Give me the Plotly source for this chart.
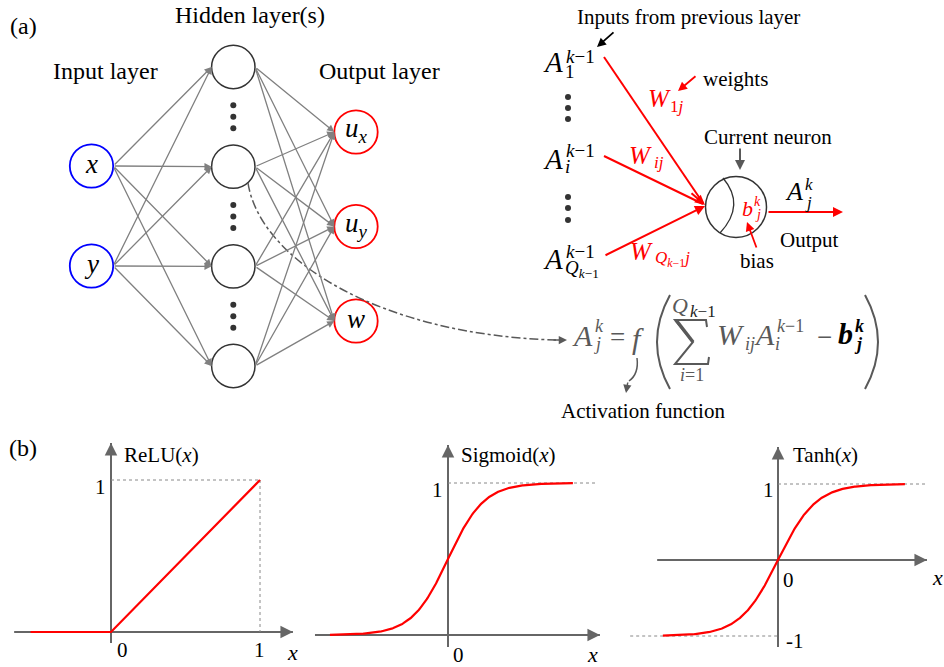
import numpy as np
import plotly.graph_objects as go

FIG_W, FIG_H = 944, 667
SERIF = "Liberation Serif"
INK = "#000000"
GRAY = "#595959"
EDGE = "#808080"
RED = "#ff0000"
BLUE = "#0000ff"
DOT = "#333333"

# ---------------- values ----------------
input_labels = ["<i>x</i>", "<i>y</i>"]
output_labels = ["<i>u</i><sub><i>x</i></sub>", "<i>u</i><sub><i>y</i></sub>", "<i>w</i>"]
n_hidden = 4

relu_x = np.array([-0.54, 0.0, 1.0])
sigmoid_x = np.linspace(-6.56, 6.94, 300)
tanh_x = np.linspace(-3.03, 3.34, 300)

relu_y = np.maximum(relu_x, 0.0)
sigmoid_y = 1.0 / (1.0 + np.exp(-sigmoid_x))
tanh_y = np.tanh(tanh_x)

# ---------------- drawing helpers ----------------
annotations, shapes, traces = [], [], []
layout_axes = {}


def label(x, y, text, size, color=INK, ref=("x", "y"), xanchor="center", **kw):
    d = dict(x=x, y=y, xref=ref[0], yref=ref[1], text=text, showarrow=False,
             font=dict(family=SERIF, size=size, color=color),
             xanchor=xanchor, yanchor="middle")
    d.update(kw)
    annotations.append(d)


def arrow(x0, y0, x1, y1, color, width=1.3, head=2, size=1.0, ref=("x", "y")):
    annotations.append(dict(x=x1, y=y1, ax=x0, ay=y0, xref=ref[0], yref=ref[1],
                            axref=ref[0], ayref=ref[1], text="", showarrow=True,
                            arrowhead=head, arrowsize=size, arrowwidth=width,
                            arrowcolor=color))


def line(x0, y0, x1, y1, color, width=1.0, dash="solid", ref=("x", "y"), layer="above"):
    shapes.append(dict(type="line", x0=x0, y0=y0, x1=x1, y1=y1, xref=ref[0], yref=ref[1],
                       line=dict(color=color, width=width, dash=dash), layer=layer))


def path(d, color, width=1.5, dash="solid"):
    shapes.append(dict(type="path", path=d, xref="x", yref="y",
                       line=dict(color=color, width=width, dash=dash)))


def circle(cx, cy, r, color, width=1.8):
    shapes.append(dict(type="circle", x0=cx - r, x1=cx + r, y0=cy - r, y1=cy + r,
                       xref="x", yref="y", line=dict(color=color, width=width),
                       fillcolor="white"))


def dots(x, ys):
    traces.append(go.Scatter(x=[x] * len(ys), y=ys, mode="markers", xaxis="x", yaxis="y",
                             marker=dict(size=6, color=DOT), hoverinfo="skip",
                             showlegend=False))


def scripted(x, y, base, size, sup=None, sub=None, small=17, color=INK,
             sup_pos=(0, 0), sub_pos=(0, 0)):
    """A symbol with a superscript and a subscript stacked on its right."""
    label(x, y, base, size, color)
    if sup:
        label(sup_pos[0], sup_pos[1], sup, small, color, xanchor="left")
    if sub:
        label(sub_pos[0], sub_pos[1], sub, small, color, xanchor="left")


# ---------------- (a) network ----------------
COL_IN, COL_HID, COL_OUT = 91.5, 233.3, 356.0
R = 21.7
in_rows = np.linspace(166, 266, len(input_labels))
hid_rows = np.linspace(67, 366, n_hidden)
out_rows = np.linspace(132, 321, len(output_labels))

for yi in in_rows:
    for yh in hid_rows:
        arrow(COL_IN + R, yi, COL_HID - R, yh, EDGE, 1.3, 2, 1.1)
for yh in hid_rows:
    for yo in out_rows:
        arrow(COL_HID + R, yh, COL_OUT - R, yo, EDGE, 1.3, 2, 1.1)

for yi, t in zip(in_rows, input_labels):
    circle(COL_IN, yi, R, BLUE)
    label(COL_IN, yi - 2, t, 27)
for yh in hid_rows:
    circle(COL_HID, yh, R, "#333333", 1.5)
for yo, t in zip(out_rows, output_labels):
    circle(COL_OUT, yo, R, RED)
    label(COL_OUT, yo - 2, t, 27)

gap = hid_rows[1] - hid_rows[0]
for yh in hid_rows[:-1]:
    mid = yh + gap / 2
    dots(COL_HID, [mid - 11.5, mid, mid + 11.5])

label(23, 26, "(a)", 24)
label(249.5, 15, "Hidden layer(s)", 24)
label(105.5, 71, "Input layer", 24)
label(379.5, 71, "Output layer", 24)

# dash-dot link from a hidden neuron to the activation equation
path("M 248 183 C 260 260, 380 335, 556 340", GRAY, 1.5, "dashdot")
arrow(552, 340, 567, 340, GRAY, 1.5, 2, 1.1)

# ---------------- (a) single neuron ----------------
NX, NY, NR = 736, 207, 30.5
label(688, 17, "Inputs from previous layer", 21)
arrow(615, 31, 597, 47, INK, 1.8, 2, 1.0)

line(604, 57, 703, 203, RED, 2)
line(604, 156, 703, 204, RED, 2)
arrow(604, 256, 705, 206, RED, 2, 2, 1.0)
arrow(690, 192, 705, 205, RED, 2, 2, 1.0)

scripted(552.5, 62, "<i>A</i>", 29, "<i>k</i>−1", "1", 19, INK, (564, 56), (563, 71))
scripted(552.5, 159, "<i>A</i>", 29, "<i>k</i>−1", "<i>i</i>", 19, INK, (564, 150), (563, 166))
scripted(552.5, 259, "<i>A</i>", 29, "<i>k</i>−1", "<i>Q</i><sub><i>k</i>−1</sub>", 19, INK,
         (564, 251), (563, 269))
dots(568, [97, 108, 119])
dots(568, [197, 208, 220])

scripted(659, 98, "<i>W</i>", 25, sub="1<i>j</i>", small=17, color=RED, sub_pos=(668, 106))
scripted(640, 155, "<i>W</i>", 25, sub="<i>ij</i>", small=17, color=RED, sub_pos=(652, 162))
scripted(641.5, 251, "<i>W</i>", 25, sub="<i>Q</i><sub><i>k</i>−1</sub><i>j</i>", small=17,
         color=RED, sub_pos=(653, 259))

label(735, 79, "weights", 21)
arrow(697, 75, 678, 91, RED, 1.8, 2, 1.0)

circle(NX, NY, NR, "#333333", 1.5)
path("M 723 178 Q 746 205 720 233", "#333333", 1.3)
scripted(747.5, 208, "<i>b</i>", 22, "<i>k</i>", "<i>j</i>", 14, RED, (752, 201), (753, 214))

label(768, 137, "Current neuron", 21)
arrow(740, 147, 740, 170, GRAY, 2, 2, 1.0)

arrow(767, 212, 843, 212, RED, 2, 2, 1.0)
scripted(794, 191.5, "<i>A</i>", 26, "<i>k</i>", "<i>j</i>", 17, INK, (803, 184), (803, 202))
label(809, 240, "Output", 21)

label(757, 261, "bias", 21)
arrow(757, 249, 747, 222, RED, 1.8, 2, 1.0)

# ---------------- activation equation ----------------
FS = 30
scripted(582.5, 335, "<i>A</i>", FS, "<i>k</i>", "<i>j</i>", 18, GRAY, (593, 326), (592, 344))
label(617, 337, "=", 27, GRAY)
label(637.5, 338, "<i>f</i>", FS, GRAY)
path("M 670 295 Q 644 342 670 389", GRAY, 2)
label(679.5, 305, "<i>Q</i>", 22, GRAY)
label(688, 311, "<i>k</i>−1", 17, "#222222", xanchor="left")
path("M 707 327 L 706 320 L 675 320 L 693 342 L 675 364 L 708 364 L 709 357", GRAY, 2)
path("M 676 320 L 693 342", GRAY, 3.5)
label(691.5, 375, "<i>i</i>=1", 18, GRAY)
scripted(730.5, 334, "<i>W</i>", FS, sub="<i>ij</i>", small=18, color=GRAY, sub_pos=(743, 344))
scripted(764, 334, "<i>A</i>", FS, "<i>k</i>−1", "<i>i</i>", 18, GRAY, (775, 326), (773, 344))
label(824.5, 337, "−", 27, GRAY)
scripted(845, 333, "<b><i>b</i></b>", FS, "<b><i>k</i></b>", "<b><i>j</i></b>", 18, INK,
         (853, 326), (852, 344))
path("M 865 295 Q 891 342 865 389", GRAY, 2)

path("M 637 358 Q 639 374 629 381", GRAY, 1.5)
arrow(628, 381, 626, 393, GRAY, 1.5, 2, 1.1)
label(643, 411, "Activation function", 21)

# ---------------- (b) activation panels ----------------
label(23, 448, "(b)", 24)


def panel(idx, box, origin, scale):
    px0, px1, py0, py1 = box
    ox, oy = origin
    sx, sy = scale
    layout_axes[f"xaxis{idx}"] = dict(domain=[px0 / FIG_W, px1 / FIG_W],
                                      range=[(px0 - ox) / sx, (px1 - ox) / sx],
                                      visible=False, anchor=f"y{idx}")
    layout_axes[f"yaxis{idx}"] = dict(domain=[1 - py1 / FIG_H, 1 - py0 / FIG_H],
                                      range=[(oy - py1) / sy, (oy - py0) / sy],
                                      visible=False, anchor=f"x{idx}")
    return (f"x{idx}", f"y{idx}")


def axes_cross(ref, xa, xb, ya, yb, y_at=0.0):
    line(xa, y_at, xb, y_at, "#666666", 2, ref=ref, layer="below")
    line(0, ya, 0, yb, "#666666", 2, ref=ref, layer="below")
    span_x = (xb - xa) * 0.05
    span_y = (yb - ya) * 0.05
    arrow(xb - span_x, y_at, xb, y_at, "#666666", 2, 2, 1.25, ref=ref)
    arrow(0, yb - span_y, 0, yb, "#666666", 2, 2, 1.25, ref=ref)


# ReLU
p1 = panel(2, (0, 310, 430, 667), (111, 632), (149, 152))
axes_cross(p1, -0.65, 1.221, -0.072, 1.243)
line(0, 1, 1, 1, "#888888", 1, "dot", ref=p1, layer="below")
line(1, 1, 1, 0, "#888888", 1, "dot", ref=p1, layer="below")
traces.append(go.Scatter(x=relu_x, y=relu_y, mode="lines", xaxis="x2", yaxis="y2",
                         line=dict(color=RED, width=2.2), hoverinfo="skip", showlegend=False))
label(0, 1, "1", 21, ref=p1, xshift=-11, yshift=-7)
label(0, 0, "0", 21, ref=p1, xshift=11, yshift=-18)
label(1, 0, "1", 21, ref=p1, xshift=-1, yshift=-18)
label(1.22, 0, "<i>x</i>", 22, ref=p1, yshift=-20)
label(0, 1.243, "ReLU(<i>x</i>)", 21, ref=p1, xanchor="left", xshift=11, yshift=-12)

# Sigmoid
p2 = panel(3, (310, 625, 430, 667), (448, 635), (18, 152))
axes_cross(p2, -7.39, 8.44, -0.079, 1.25)
line(0, 1, 8.28, 1, "#888888", 1, "dot", ref=p2, layer="below")
traces.append(go.Scatter(x=sigmoid_x, y=sigmoid_y, mode="lines", xaxis="x3", yaxis="y3",
                         line=dict(color=RED, width=2.2), hoverinfo="skip", showlegend=False))
label(0, 1, "1", 21, ref=p2, xshift=-11, yshift=-7)
label(0, 0, "0", 21, ref=p2, xshift=10, yshift=-20)
label(8.0, 0, "<i>x</i>", 22, ref=p2, yshift=-19)
label(0, 1.25, "Sigmoid(<i>x</i>)", 21, ref=p2, xanchor="left", xshift=11, yshift=-10)

# Tanh
p3 = panel(4, (625, 944, 430, 667), (778, 560), (38, 76))
axes_cross(p3, -3.18, 3.92, -1.145, 1.487)
line(0, 1, 3.92, 1, "#888888", 1, "dot", ref=p3, layer="below")
line(-3.89, -1, 0, -1, "#888888", 1, "dot", ref=p3, layer="below")
traces.append(go.Scatter(x=tanh_x, y=tanh_y, mode="lines", xaxis="x4", yaxis="y4",
                         line=dict(color=RED, width=2.2), hoverinfo="skip", showlegend=False))
label(0, 1, "1", 21, ref=p3, xshift=-10, yshift=-6)
label(0, -1, "-1", 21, ref=p3, xshift=17, yshift=-5)
label(0, 0, "0", 21, ref=p3, xshift=10, yshift=-20)
label(4.21, 0, "<i>x</i>", 22, ref=p3, yshift=-17)
label(0, 1.487, "Tanh(<i>x</i>)", 21, ref=p3, xanchor="left", xshift=13, yshift=-8)

# ---------------- figure ----------------
fig = go.Figure(traces)
fig.update_layout(
    width=FIG_W, height=FIG_H, autosize=False,
    margin=dict(l=0, r=0, t=0, b=0),
    paper_bgcolor="white", plot_bgcolor="white",
    xaxis=dict(domain=[0, 1], range=[0, FIG_W], visible=False),
    yaxis=dict(domain=[0, 1], range=[FIG_H, 0], visible=False),
    shapes=shapes, annotations=annotations, showlegend=False,
    **layout_axes,
)
fig.write_html("out.html")
